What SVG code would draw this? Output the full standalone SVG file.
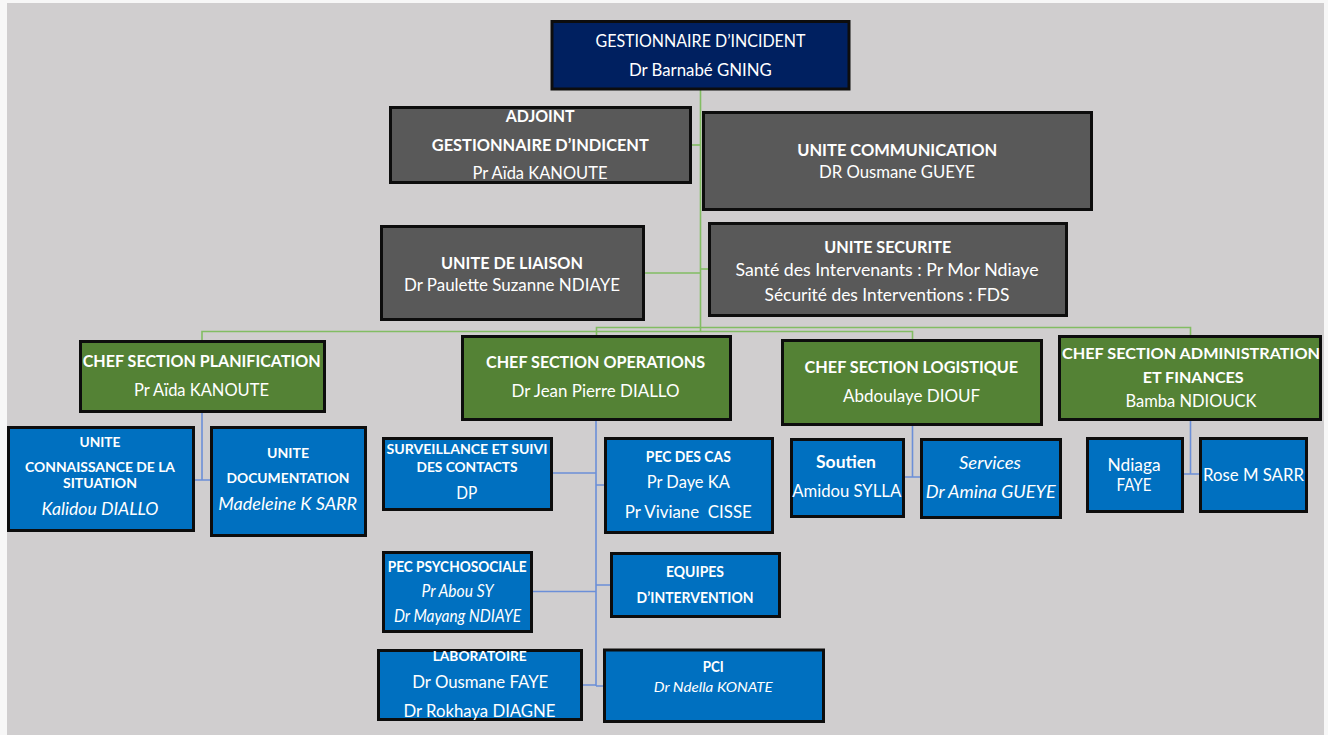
<svg xmlns="http://www.w3.org/2000/svg" width="1328" height="735" viewBox="0 0 1328 735">
<style>
.box{stroke:#0d0d0d;stroke-width:3}
.navy{fill:#002060}.gray{fill:#595959}.green{fill:#548235}.blue{fill:#0070c0}
.lg{fill:none;stroke:#82bd63;stroke-width:1.6}
.lb{fill:none;stroke:#6b8fd8;stroke-width:1.6}
text{font-family:Lato,"Liberation Sans",sans-serif;fill:#ffffff;text-anchor:middle}
.b{font-weight:bold}.i{font-style:italic}
.s17{font-size:17px}.s16{font-size:16.5px}.s15{font-size:15px}.s14{font-size:14px}
</style>
<rect x="0" y="0" width="1328" height="735" fill="#f7f7f7"/>
<rect x="7" y="3" width="1317" height="732" fill="#d0cecf"/>
<g id="connectors">
<path class="lg" d="M700.5 90 V331.5 H202 V340"/>
<path class="lg" d="M700.5 331.5 H912.5 V339"/>
<path class="lg" d="M596.5 335 V327.5 H1190.5 V335"/>
<path class="lg" d="M692 145 H700.5"/>
<path class="lg" d="M645 273 H700.5"/>
<path class="lg" d="M700.5 269 H708"/>
<path class="lb" d="M202 413 V480 H210 M195 480 H202"/>
<path class="lb" d="M596 421 V686 M553 473 H596 M596 485 H604 M533 591.5 H596 M596 585 H610 M583 685 H596 M596 686 H603"/>
<path class="lb" d="M912.5 426 V477 H920 M905 477 H912.5"/>
<path class="lb" d="M1190.5 421 V474 H1199 M1184 474 H1190.5"/>
</g>
<g id="gestionnaire">
<rect class="box navy" x="552" y="21.5" width="297" height="67.5"/>
<text class="s17" x="700.5" y="46.5" textLength="210" lengthAdjust="spacingAndGlyphs">GESTIONNAIRE D’INCIDENT</text>
<text class="s17" x="700.4" y="75.5" textLength="143" lengthAdjust="spacingAndGlyphs">Dr Barnabé GNING</text>
</g>
<g id="adjoint">
<rect class="box gray" x="390.5" y="107.5" width="300" height="75"/>
<text class="s17 b" x="540.2" y="122" textLength="69" lengthAdjust="spacingAndGlyphs">ADJOINT</text>
<text class="s17 b" x="540.3" y="151" textLength="217" lengthAdjust="spacingAndGlyphs">GESTIONNAIRE D’INDICENT</text>
<text class="s17" x="540" y="179" textLength="135" lengthAdjust="spacingAndGlyphs">Pr Aïda KANOUTE</text>
</g>
<g id="communication">
<rect class="box gray" x="703.5" y="112.5" width="388" height="97"/>
<text class="s17 b" x="897.2" y="155.5" textLength="200" lengthAdjust="spacingAndGlyphs">UNITE COMMUNICATION</text>
<text class="s17" x="897" y="178" textLength="156" lengthAdjust="spacingAndGlyphs">DR Ousmane GUEYE</text>
</g>
<g id="liaison">
<rect class="box gray" x="381.5" y="226.5" width="262" height="93"/>
<text class="s17 b" x="512" y="269" textLength="142" lengthAdjust="spacingAndGlyphs">UNITE DE LIAISON</text>
<text class="s17" x="512" y="291" textLength="216" lengthAdjust="spacingAndGlyphs">Dr Paulette Suzanne NDIAYE</text>
</g>
<g id="securite">
<rect class="box gray" x="709.5" y="223.5" width="357" height="92"/>
<text class="s17 b" x="887.7" y="252.5" textLength="127" lengthAdjust="spacingAndGlyphs">UNITE SECURITE</text>
<text class="s17" x="887" y="276" textLength="303" lengthAdjust="spacingAndGlyphs">Santé des Intervenants : Pr Mor Ndiaye</text>
<text class="s17" x="887" y="300.5" textLength="245" lengthAdjust="spacingAndGlyphs">Sécurité des Interventions : FDS</text>
</g>
<g id="planification">
<rect class="box green" x="80.5" y="341.5" width="244" height="70"/>
<text class="s17 b" x="201.7" y="367" textLength="238" lengthAdjust="spacingAndGlyphs">CHEF SECTION PLANIFICATION</text>
<text class="s17" x="201.5" y="396" textLength="135" lengthAdjust="spacingAndGlyphs">Pr Aïda KANOUTE</text>
</g>
<g id="operations">
<rect class="box green" x="462.5" y="336.5" width="268" height="83"/>
<text class="s17 b" x="595.5" y="368" textLength="219" lengthAdjust="spacingAndGlyphs">CHEF SECTION OPERATIONS</text>
<text class="s17" x="595.5" y="396.5" textLength="168" lengthAdjust="spacingAndGlyphs">Dr Jean Pierre DIALLO</text>
</g>
<g id="logistique">
<rect class="box green" x="782.5" y="340.5" width="259" height="84"/>
<text class="s17 b" x="911.4" y="373" textLength="213.6" lengthAdjust="spacingAndGlyphs">CHEF SECTION LOGISTIQUE</text>
<text class="s17" x="911.6" y="401.5" textLength="137" lengthAdjust="spacingAndGlyphs">Abdoulaye DIOUF</text>
</g>
<g id="administration">
<rect class="box green" x="1059.5" y="336.5" width="261" height="83"/>
<text class="s15 b" x="1191" y="359" textLength="258" lengthAdjust="spacingAndGlyphs">CHEF SECTION ADMINISTRATION</text>
<text class="s15 b" x="1193.2" y="383" textLength="101" lengthAdjust="spacingAndGlyphs">ET FINANCES</text>
<text class="s17" x="1191" y="407" textLength="131" lengthAdjust="spacingAndGlyphs">Bamba NDIOUCK</text>
</g>
<g id="connaissance">
<rect class="box blue" x="8.5" y="427.5" width="185" height="103"/>
<text class="s14 b" x="100" y="446.5" textLength="41" lengthAdjust="spacingAndGlyphs">UNITE</text>
<text class="s14 b" x="100" y="471.5" textLength="150" lengthAdjust="spacingAndGlyphs">CONNAISSANCE DE LA</text>
<text class="s14 b" x="100" y="488" textLength="74" lengthAdjust="spacingAndGlyphs">SITUATION</text>
<text class="s16 i" x="100" y="515" textLength="117" lengthAdjust="spacingAndGlyphs">Kalidou DIALLO</text>
</g>
<g id="documentation">
<rect class="box blue" x="211.5" y="427.5" width="154" height="108"/>
<text class="s14 b" x="288" y="458" textLength="42" lengthAdjust="spacingAndGlyphs">UNITE</text>
<text class="s14 b" x="288" y="483" textLength="123" lengthAdjust="spacingAndGlyphs">DOCUMENTATION</text>
<text class="s16 i" x="287.7" y="510" textLength="139" lengthAdjust="spacingAndGlyphs">Madeleine K SARR</text>
</g>
<g id="surveillance">
<rect class="box blue" x="383.5" y="438.5" width="168" height="71"/>
<text class="s14 b" x="467" y="454" textLength="161" lengthAdjust="spacingAndGlyphs">SURVEILLANCE ET SUIVI</text>
<text class="s14 b" x="467" y="471.5" textLength="101" lengthAdjust="spacingAndGlyphs">DES CONTACTS</text>
<text class="s17" x="466.7" y="499" textLength="21" lengthAdjust="spacingAndGlyphs">DP</text>
</g>
<g id="pec-cas">
<rect class="box blue" x="605.5" y="438.5" width="167" height="94"/>
<text class="s15 b" x="688.3" y="461.5" textLength="85" lengthAdjust="spacingAndGlyphs">PEC DES CAS</text>
<text class="s16" x="688.3" y="488" textLength="83" lengthAdjust="spacingAndGlyphs">Pr Daye KA</text>
<text class="s16" x="688.3" y="517.5" textLength="127" lengthAdjust="spacingAndGlyphs">Pr Viviane&#160; CISSE</text>
</g>
<g id="psychosociale">
<rect class="box blue" x="383.5" y="552.5" width="148" height="79"/>
<text class="s15 b" x="457.2" y="571.5" textLength="139" lengthAdjust="spacingAndGlyphs">PEC PSYCHOSOCIALE</text>
<text class="s16 i" x="457.5" y="596.5" textLength="72" lengthAdjust="spacingAndGlyphs">Pr Abou SY</text>
<text class="s16 i" x="457.5" y="622" textLength="127" lengthAdjust="spacingAndGlyphs">Dr Mayang NDIAYE</text>
</g>
<g id="equipes">
<rect class="box blue" x="611.5" y="553.5" width="168" height="63"/>
<text class="s15 b" x="695" y="576.5" textLength="58" lengthAdjust="spacingAndGlyphs">EQUIPES</text>
<text class="s15 b" x="695" y="602.5" textLength="117" lengthAdjust="spacingAndGlyphs">D’INTERVENTION</text>
</g>
<g id="laboratoire">
<rect class="box blue" x="378.5" y="650.5" width="203" height="69"/>
<text class="s14 b" x="479.7" y="660.5" textLength="94" lengthAdjust="spacingAndGlyphs">LABORATOIRE</text>
<text class="s16" x="480.3" y="687.5" textLength="136" lengthAdjust="spacingAndGlyphs">Dr Ousmane FAYE</text>
<text class="s16" x="479.5" y="716.5" textLength="152" lengthAdjust="spacingAndGlyphs">Dr Rokhaya DIAGNE</text>
</g>
<g id="pci">
<rect class="box blue" x="604.5" y="650" width="219" height="71.5"/>
<text class="s15 b" x="713.3" y="671.5" textLength="21" lengthAdjust="spacingAndGlyphs">PCI</text>
<text class="s14 i" x="713.3" y="691.5" textLength="119" lengthAdjust="spacingAndGlyphs">Dr Ndella KONATE</text>
</g>
<g id="soutien">
<rect class="box blue" x="791.5" y="439.5" width="112" height="77"/>
<text class="s16 b" x="846" y="468" textLength="60" lengthAdjust="spacingAndGlyphs">Soutien</text>
<text class="s16" x="846.7" y="496.5" textLength="109" lengthAdjust="spacingAndGlyphs">Amidou SYLLA</text>
</g>
<g id="services">
<rect class="box blue" x="921.5" y="439.5" width="139" height="78"/>
<text class="s16 i" x="990" y="469" textLength="62" lengthAdjust="spacingAndGlyphs">Services</text>
<text class="s16 i" x="990.8" y="498" textLength="130" lengthAdjust="spacingAndGlyphs">Dr Amina GUEYE</text>
</g>
<g id="ndiaga">
<rect class="box blue" x="1087.5" y="438.5" width="95" height="73"/>
<text class="s17" x="1134" y="470.5" textLength="53" lengthAdjust="spacingAndGlyphs">Ndiaga</text>
<text class="s17" x="1134" y="491" textLength="35" lengthAdjust="spacingAndGlyphs">FAYE</text>
</g>
<g id="rose">
<rect class="box blue" x="1200.5" y="438.5" width="106" height="73"/>
<text class="s17" x="1253.5" y="481" textLength="101" lengthAdjust="spacingAndGlyphs">Rose M SARR</text>
</g>
</svg>
